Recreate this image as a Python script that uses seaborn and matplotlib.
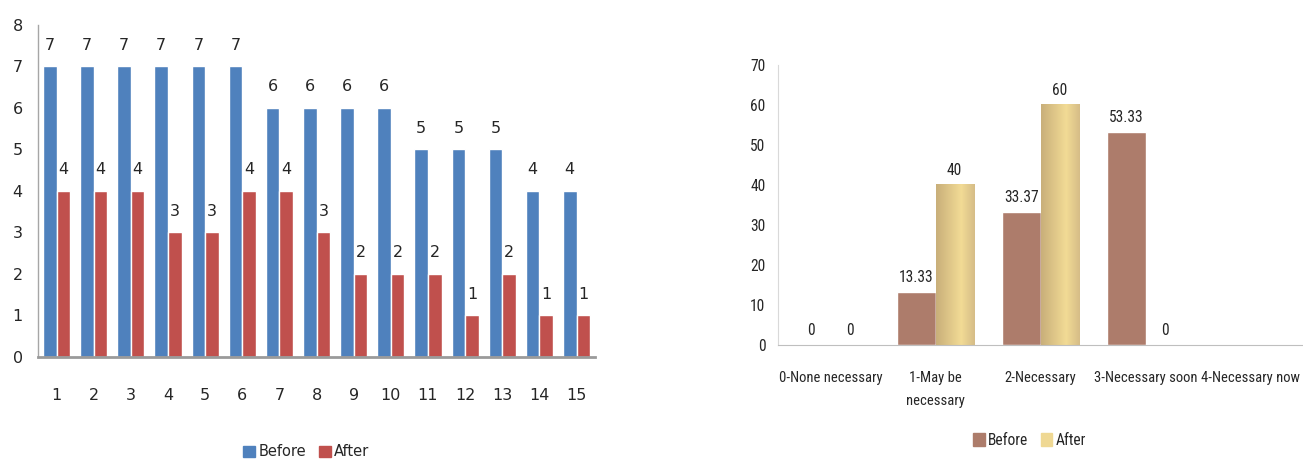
import matplotlib
matplotlib.use("Agg")
import matplotlib.pyplot as plt
import numpy as np
import pandas as pd
import seaborn as sns
from matplotlib import font_manager
from matplotlib.colors import LinearSegmentedColormap
from matplotlib.patches import Patch

# left chart: scores per participant
participants = [str(i) for i in range(1, 16)]
before_scores = [7, 7, 7, 7, 7, 7, 6, 6, 6, 6, 5, 5, 5, 4, 4]
after_scores = [4, 4, 4, 3, 3, 4, 4, 3, 2, 2, 2, 1, 2, 1, 1]

# right chart: percentage per need level
need_levels = ["0-None necessary", "1-May be\nnecessary", "2-Necessary",
               "3-Necessary soon", "4-Necessary now"]
before_pct = [0, 13.33, 33.37, 53.33, np.nan]
after_pct = [0, 40, 60, 0, np.nan]

sns.set_style("white")

# pick a narrow font for the right panel if one is around
installed = {f.name for f in font_manager.fontManager.ttflist}
rfont, rsize = "Lato", 9.8
for name, size in [("Liberation Sans Narrow", 11), ("DejaVu Sans Condensed", 9.5),
                   ("Roboto Condensed", 10.5)]:
    if name in installed:
        rfont, rsize = name, size
        break

left_df = pd.DataFrame({
    "x": participants * 2,
    "value": before_scores + after_scores,
    "when": ["Before"] * 15 + ["After"] * 15,
})
right_df = pd.DataFrame({
    "x": need_levels * 2,
    "value": before_pct + after_pct,
    "when": ["Before"] * 5 + ["After"] * 5,
}).dropna()

fig = plt.figure(figsize=(13.03, 4.62), dpi=100)

# ---- left panel
lfont = "DejaVu Sans"
left_colors = {"Before": "#4F81BD", "After": "#C0504D"}
ax1 = fig.add_axes([0.0292, 0.2273, 0.4275, 0.7186])
sns.barplot(data=left_df, x="x", y="value", hue="when", order=participants,
            hue_order=["Before", "After"], palette=left_colors, width=0.73,
            saturation=1, legend=False, ax=ax1)
for c in ax1.containers:
    ax1.bar_label(c, fmt="%d", padding=10, fontsize=11.5, family=lfont)
ax1.set_xlim(-0.5, 14.5)
ax1.set_ylim(0, 8)
ax1.set_yticks(range(0, 9))
ax1.set_xlabel("")
ax1.set_ylabel("")
ax1.tick_params(axis="x", length=0, pad=22, labelsize=11.5)
ax1.tick_params(axis="y", length=0, pad=11, labelsize=11.5)
for s in ["top", "right"]:
    ax1.spines[s].set_visible(False)
ax1.spines["left"].set_color("#A6A6A6")
ax1.spines["left"].set_linewidth(1.0)
ax1.spines["bottom"].set_color("#9A9A9A")
ax1.spines["bottom"].set_linewidth(2.0)
fig.legend(handles=[Patch(color=left_colors["Before"]), Patch(color=left_colors["After"])],
           labels=["Before", "After"], loc="center", bbox_to_anchor=(0.235, 0.022),
           ncol=2, frameon=False, handlelength=0.8, handleheight=0.8,
           handletextpad=0.25, columnspacing=0.9, prop={"family": lfont, "size": 10.5})

# ---- right panel
right_colors = {"Before": "#AD7C6B", "After": "#EFD893"}
ax2 = fig.add_axes([0.5971, 0.2532, 0.4029, 0.6061])
sns.barplot(data=right_df, x="x", y="value", hue="when", order=need_levels,
            hue_order=["Before", "After"], palette=right_colors, width=0.73,
            saturation=1, legend=False, ax=ax2)

gold = LinearSegmentedColormap.from_list(
    "gold", [(0, "#C9AF7A"), (0.65, "#F2DB95"), (1, "#D6BD87")])
grad = np.linspace(0, 1, 64).reshape(1, -1)
for p in ax2.containers[1]:
    h = p.get_height()
    if h > 0:
        x0 = p.get_x()
        ax2.imshow(grad, cmap=gold, aspect="auto", extent=[x0, x0 + p.get_width(), 0, h],
                   zorder=p.get_zorder() + 0.1, interpolation="bilinear")

for c in ax2.containers:
    ax2.bar_label(c, fmt="%g", padding=5, fontsize=rsize + 0.7, family=rfont)
ax2.set_xlim(-0.5, 4.5)
ax2.set_ylim(0, 70)
ax2.set_yticks(range(0, 71, 10))
ax2.set_xlabel("")
ax2.set_ylabel("")
ax2.tick_params(axis="x", length=0, pad=19)
ax2.tick_params(axis="y", length=0, pad=9)
for lab in ax2.get_xticklabels():
    lab.set_family(rfont)
    lab.set_fontsize(rsize)
    lab.set_linespacing(1.75)
for lab in ax2.get_yticklabels():
    lab.set_family(rfont)
    lab.set_fontsize(rsize + 0.7)
for s in ["top", "right"]:
    ax2.spines[s].set_visible(False)
ax2.spines["left"].set_color("#D9D9D9")
ax2.spines["bottom"].set_color("#BFBFBF")
fig.legend(handles=[Patch(color=right_colors["Before"]), Patch(color=right_colors["After"])],
           labels=["Before", "After"], loc="center", bbox_to_anchor=(0.790, 0.0476),
           ncol=2, frameon=False, handlelength=0.75, handleheight=0.9,
           handletextpad=0.2, columnspacing=0.8, prop={"family": rfont, "size": rsize + 0.7})

fig.savefig("out.png", dpi=100)
